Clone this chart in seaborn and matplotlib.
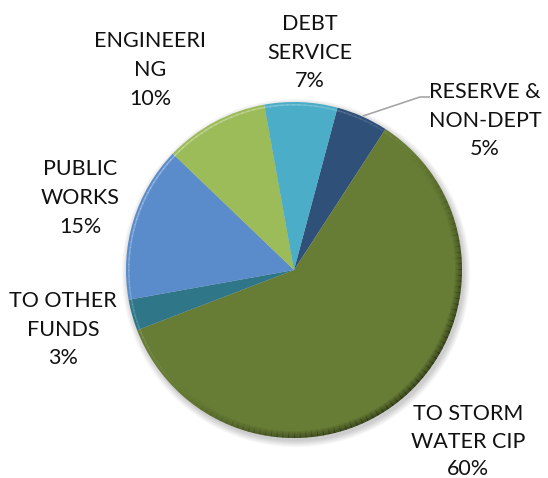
import numpy as np
import matplotlib
matplotlib.use("Agg")
import matplotlib.pyplot as plt
from matplotlib.patches import Wedge, Circle
import seaborn as sns

# Budget shares, listed clockwise from the top of the pie
categories = ["RESERVE &\nNON-DEPT", "TO STORM\nWATER CIP", "TO OTHER\nFUNDS",
              "PUBLIC\nWORKS", "ENGINEERI\nNG", "DEBT\nSERVICE"]
shares = [5, 60, 3, 15, 10, 7]
colors = ["#2f5079", "#677c35", "#2f7688", "#5a8bca", "#9cbb59", "#4badc7"]

# Label anchors in pixels: (centre x, baseline of first line, line step)
label_anchor = [(485, 98, 28.5), (468, 420, 27.5), (63, 307, 28.5),
                (80, 175, 29), (150, 47, 29), (310, 30, 28.5)]

sns.set_theme(style="white")
plt.rcParams["font.family"] = ["Lato", "DejaVu Sans"]

W, H = 548, 478
fig = plt.figure(figsize=(W / 100, H / 100), dpi=100)
ax = fig.add_axes([0, 0, 1, 1])
cx, cy, r = 294, H - 270, 168

# soft drop shadow behind the pie
for i in range(10):
    ax.add_patch(Circle((cx + 2, cy - 3), r + i * 0.7, color="black",
                        alpha=0.018, lw=0, zorder=0))

ax.pie(shares, colors=colors, startangle=75, counterclock=False,
       center=(cx, cy), radius=r, wedgeprops=dict(linewidth=0),
       frame=False)

# bevelled rim: darker toward lower right, light edge toward upper left
step = 2
for t in np.arange(0, 360, step):
    shade = np.cos(np.radians(t + step / 2 - 135))
    if shade < 0:
        for k in range(7):
            ax.add_patch(Wedge((cx, cy), r - k, t, t + step + 0.3, width=1,
                               color="black", lw=0,
                               alpha=-shade * 0.45 * (1 - k / 7), zorder=3))
    else:
        ax.add_patch(Wedge((cx, cy), r - 2, t, t + step + 0.3, width=1.6,
                           color="white", lw=0, alpha=shade * 0.3, zorder=3))

# category labels with the percentage below
for name, val, (lx, ly, dy) in zip(categories, shares, label_anchor):
    lines = name.split("\n") + [f"{val}%"]
    for i, line in enumerate(lines):
        ax.text(lx, H - (ly + i * dy), line, ha="center", va="baseline",
                fontsize=15.5, color="#111111", zorder=5)

# leader line for the small reserve slice
ax.plot([363, 420, 430], [H - 116, H - 97, H - 97], color="#a6a6a6", lw=1.2,
        zorder=4, solid_capstyle="butt")

ax.set_xlim(0, W)
ax.set_ylim(0, H)
ax.set_aspect("equal")
ax.axis("off")
fig.savefig("out.png", dpi=100, facecolor="white")
